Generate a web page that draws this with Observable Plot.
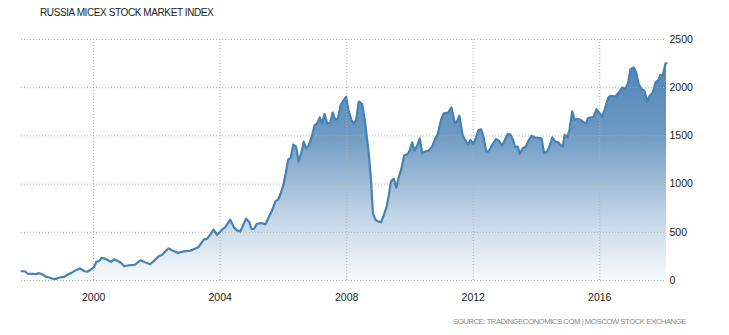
<!DOCTYPE html>
<html><head><meta charset="utf-8">
<script src="https://cdn.jsdelivr.net/npm/d3@7"></script>
<script src="https://cdn.jsdelivr.net/npm/@observablehq/plot@0.6"></script>
<style>
body{margin:0;background:#fff;}
#wrap{position:relative;width:729px;height:335px;overflow:hidden;background:#fff}
#chart{position:absolute;left:0;top:0}
#title{position:absolute;left:40px;top:7px;font:10px "Liberation Sans",Arial,sans-serif;letter-spacing:-0.4px;color:#222;white-space:nowrap}
#source{position:absolute;right:43px;top:317px;font:7.8px "Liberation Sans",Arial,sans-serif;letter-spacing:-0.5px;color:#8a8a8a;white-space:nowrap}
</style></head><body>
<div id="wrap"><div id="chart"></div><div id="title">RUSSIA MICEX STOCK MARKET INDEX</div><div id="source">SOURCE: TRADINGECONOMICS.COM | MOSCOW STOCK EXCHANGE</div></div>
<script>
const years = [1997.72,1997.83,1997.91,1998.07,1998.18,1998.28,1998.39,1998.50,1998.60,1998.70,1998.81,1998.92,1999.07,1999.18,1999.30,1999.44,1999.57,1999.71,1999.81,1999.92,
2000.02,2000.08,2000.18,2000.25,2000.36,2000.46,2000.55,2000.65,2000.76,2000.87,2000.97,2001.11,2001.30,2001.48,2001.63,2001.79,2001.95,
2002.06,2002.16,2002.27,2002.37,2002.48,2002.67,2002.85,2003.06,2003.22,2003.32,2003.48,2003.59,2003.69,2003.79,2003.90,
2004.06,2004.16,2004.32,2004.43,2004.53,2004.64,2004.82,2004.92,2004.99,2005.06,2005.17,2005.30,2005.43,2005.53,2005.64,2005.75,2005.83,2005.91,
2006.01,2006.08,2006.15,2006.23,2006.31,2006.40,2006.48,2006.57,2006.64,2006.72,2006.80,2006.88,2006.99,2007.06,2007.15,2007.22,2007.30,2007.39,2007.48,2007.56,2007.64,2007.73,2007.81,2007.89,2007.98,
2008.06,2008.15,2008.22,2008.30,2008.38,2008.49,2008.59,2008.70,2008.77,2008.83,2008.91,2008.98,2009.09,2009.17,2009.26,2009.33,2009.40,2009.49,2009.57,2009.64,2009.73,2009.82,2009.93,2009.99,
2010.07,2010.14,2010.23,2010.31,2010.39,2010.49,2010.59,2010.70,2010.80,2010.88,2010.99,2011.07,2011.21,2011.31,2011.42,2011.49,2011.56,2011.67,2011.75,2011.83,2011.91,
2012.00,2012.09,2012.17,2012.25,2012.33,2012.41,2012.49,2012.60,2012.72,2012.81,2012.91,2013.00,2013.09,2013.18,2013.26,2013.33,2013.41,2013.47,2013.57,2013.65,2013.75,2013.84,2013.94,
2014.05,2014.16,2014.24,2014.34,2014.41,2014.50,2014.60,2014.69,2014.76,2014.83,2014.89,2014.97,2015.04,2015.13,2015.21,2015.29,2015.39,2015.49,2015.57,2015.63,2015.74,2015.81,2015.90,2015.97,
2016.08,2016.16,2016.27,2016.34,2016.50,2016.60,2016.71,2016.81,2016.90,2016.97,2017.08,2017.15,2017.23,2017.32,2017.41,2017.50,2017.58,2017.68,2017.76,2017.85,2017.92,2017.99,2018.08,2018.11];
const values = [96,96,72,69,66,76,62,38,31,17,17,31,38,62,79,107,124,96,93,114,
141,193,203,234,227,210,193,220,203,182,148,158,162,210,189,169,217,
251,265,303,334,313,286,303,310,331,348,424,434,476,527,472,
527,554,631,554,520,510,641,606,534,534,589,596,582,651,727,823,838,900,
1003,1123,1254,1272,1409,1389,1234,1330,1440,1371,1399,1479,1613,1623,1692,1630,1727,1623,1640,1743,1665,1685,1820,1864,1906,
1761,1665,1630,1665,1857,1830,1623,1313,1037,693,631,613,606,675,761,882,1030,1055,962,1065,1158,1296,1313,1347,
1433,1347,1399,1475,1320,1340,1347,1389,1468,1520,1675,1733,1743,1795,1634,1650,1709,1502,1458,1409,1458,
1417,1485,1561,1568,1485,1340,1340,1406,1468,1451,1399,1458,1520,1513,1458,1382,1389,1313,1375,1382,1451,1502,1485,
1479,1475,1320,1340,1389,1485,1440,1433,1406,1389,1513,1485,1554,1754,1665,1675,1668,1640,1630,1685,1692,1699,1778,1743,
1699,1778,1898,1916,1909,1950,2002,1985,2054,2192,2209,2157,2037,1985,1968,1857,1916,1950,2054,2078,2133,2123,2250,2255];
const xTicks = [2000, 2004, 2008, 2012, 2016];
const yTicks = [0, 500, 1000, 1500, 2000, 2500];

const data = years.map((year, i) => ({year, value: values[i]}));

const chart = Plot.plot({
  width: 729, height: 335,
  marginLeft: 21, marginRight: 63, marginTop: 39, marginBottom: 55,
  x: {domain: [years[0], years[years.length - 1]], label: null},
  y: {domain: [0, 2500], label: null},
  style: {fontFamily: '"Liberation Sans", Arial, sans-serif', fontSize: "10.5px", color: "#222", background: "transparent", overflow: "visible"},
  marks: [
    Plot.areaY(data, {x: "year", y: "value", fill: "url(#areaGrad)"}),
    Plot.gridY(yTicks, {stroke: "#b0b0b0", strokeOpacity: 1, strokeDasharray: "1,2"}),
    Plot.gridX(xTicks, {stroke: "#b0b0b0", strokeOpacity: 1, strokeDasharray: "1,2"}),
    Plot.lineY(data, {x: "year", y: "value", stroke: "#4682b4", strokeWidth: 2.2, strokeLinejoin: "round"}),
    Plot.axisX(xTicks, {tickSize: 0, tickPadding: 13, tickFormat: d => String(d), label: null}),
    Plot.axisY(yTicks, {anchor: "right", tickSize: 0, tickPadding: 3, tickFormat: d => String(d), label: null})
  ]
});

const ys = chart.scale("y");
const grad = d3.select(chart).insert("defs", ":first-child")
  .append("linearGradient").attr("id", "areaGrad")
  .attr("gradientUnits", "userSpaceOnUse")
  .attr("x1", 0).attr("x2", 0)
  .attr("y1", ys.apply(2500)).attr("y2", ys.apply(0));
[[0, "#457eb2"], [0.4, "#6f9bc5"], [0.71, "#bcd0e3"], [1, "#f8fafd"]].forEach(([o, c]) =>
  grad.append("stop").attr("offset", o).attr("stop-color", c));

document.getElementById("chart").appendChild(chart);
</script>
</body></html>
